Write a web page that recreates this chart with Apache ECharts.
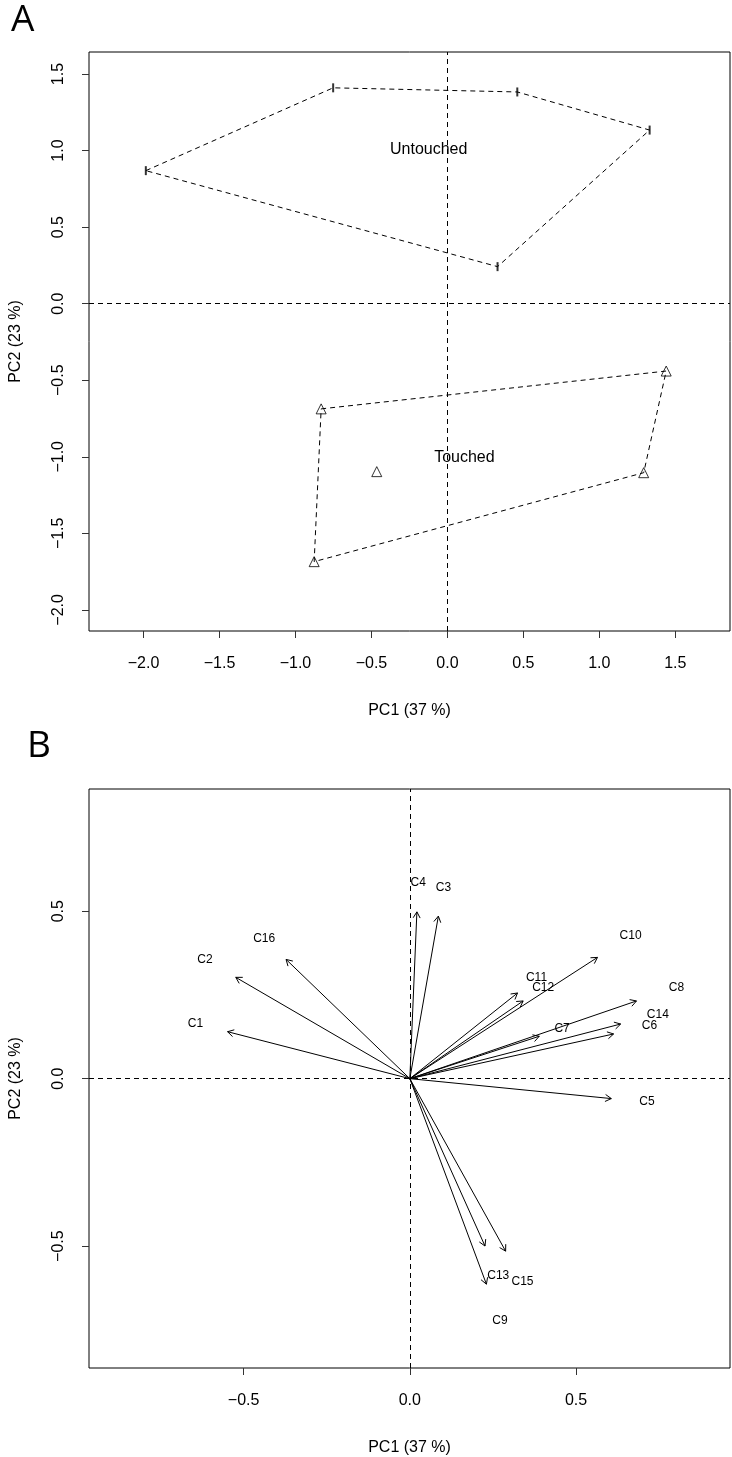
<!DOCTYPE html>
<html><head><meta charset="utf-8">
<script src="https://cdn.jsdelivr.net/npm/echarts@6/dist/echarts.min.js"></script>
<style>html,body{margin:0;padding:0;background:#fff}#c{width:732px;height:1457px}</style>
</head><body><div id="c"></div>
<script>
// ---- Panel A: site scores ----
const untouchedX = [-1.985, -0.752, 0.460, 1.331, 0.330];
const untouchedY = [0.869, 1.410, 1.383, 1.134, 0.242];
const touchedX = [-0.831, 1.440, 1.292, -0.877, -0.465];
const touchedY = [-0.687, -0.440, -1.104, -1.685, -1.097];
const untouchedHull = [0, 1, 2, 3, 4];
const touchedHull = [0, 1, 2, 3];
const groupNames = ['Untouched', 'Touched'];
const ticksAX = [-2.0, -1.5, -1.0, -0.5, 0.0, 0.5, 1.0, 1.5];
const ticksAY = [-2.0, -1.5, -1.0, -0.5, 0.0, 0.5, 1.0, 1.5];
const rangeAX = [-2.359, 1.860];
const rangeAY = [-2.138, 1.644];
// ---- Panel B: variable loadings (label positions) ----
const varNames = ['C1','C2','C3','C4','C5','C6','C7','C8','C9','C10','C11','C12','C13','C14','C15','C16'];
const varX = [-0.645, -0.616, 0.101, 0.025, 0.713, 0.721, 0.458, 0.802, 0.271, 0.664, 0.381, 0.401, 0.266, 0.746, 0.339, -0.438];
const varY = [0.165, 0.356, 0.571, 0.586, -0.070, 0.157, 0.149, 0.273, -0.722, 0.426, 0.301, 0.273, -0.588, 0.192, -0.606, 0.419];
const arrowScale = 0.85;
const ticksBX = [-0.5, 0.0, 0.5];
const ticksBY = [-0.5, 0.0, 0.5];
const rangeBX = [-0.965, 0.963];
const rangeBY = [-0.864, 0.865];
const xTitle = 'PC1 (37 %)';
const yTitle = 'PC2 (23 %)';

const FONT = '"Liberation Sans", Arial, sans-serif';
const fmt = v => (v < 0 ? '\u2212' : '') + Math.abs(v).toFixed(1);
const dash = [5, 4];

function xAx(grid, range, ticks) {
  return {
    type: 'value', gridIndex: grid, min: range[0], max: range[1], position: 'bottom',
    axisLine: { show: false, onZero: false },
    axisTick: { show: true, length: 7, customValues: ticks, lineStyle: { color: '#333', width: 1 } },
    axisLabel: { customValues: ticks, formatter: fmt, fontFamily: FONT, fontSize: 16, color: '#000', margin: 25 },
    splitLine: { show: false },
    name: xTitle, nameLocation: 'middle', nameGap: 72,
    nameTextStyle: { fontFamily: FONT, fontSize: 16, color: '#000' }
  };
}
function yAx(grid, range, ticks) {
  return {
    type: 'value', gridIndex: grid, min: range[0], max: range[1], position: 'left',
    axisLine: { show: false, onZero: false },
    axisTick: { show: true, length: 7, customValues: ticks, lineStyle: { color: '#333', width: 1 } },
    axisLabel: { customValues: ticks, formatter: fmt, fontFamily: FONT, fontSize: 16, color: '#000', margin: 22, rotate: 90 },
    splitLine: { show: false },
    name: yTitle, nameLocation: 'middle', nameGap: 65, nameRotate: 90,
    nameTextStyle: { fontFamily: FONT, fontSize: 16, color: '#000' }
  };
}

const hullData = (xs, ys, order) => order.concat([order[0]]).map(i => [xs[i], ys[i]]);
const centroid = (xs, ys) => [xs.reduce((a, b) => a + b, 0) / xs.length, ys.reduce((a, b) => a + b, 0) / ys.length];

const zeroLines = {
  silent: true, symbol: ['none', 'none'], label: { show: false },
  lineStyle: { type: dash, color: '#000', width: 1 },
  data: [{ yAxis: 0 }, { xAxis: 0 }]
};

const textSeries = (xi, yi, items, size) => ({
  type: 'custom', xAxisIndex: xi, yAxisIndex: yi, silent: true, clip: false,
  data: items.map(it => [it[0], it[1]]),
  renderItem(params, api) {
    const p = api.coord([api.value(0), api.value(1)]);
    return { type: 'text', x: p[0], y: p[1],
      style: { text: items[params.dataIndex][2], fill: '#000', font: size + 'px ' + FONT, align: 'center', verticalAlign: 'middle' } };
  }
});

const cu = centroid(untouchedX, untouchedY);
const ct = centroid(touchedX, touchedY);

const option = {
  animation: false,
  backgroundColor: '#fff',
  grid: [
    { left: 85, top: 52, width: 645, height: 579, show: true, borderColor: '#000', borderWidth: 1, containLabel: false },
    { left: 85, top: 789, width: 645, height: 579, show: true, borderColor: '#000', borderWidth: 1, containLabel: false }
  ],
  xAxis: [xAx(0, rangeAX, ticksAX), xAx(1, rangeBX, ticksBX)],
  yAxis: [yAx(0, rangeAY, ticksAY), yAx(1, rangeBY, ticksBY)],
  graphic: [
    { type: 'text', left: 11, top: 2, style: { text: 'A', font: '37px "Open Sans", sans-serif', fill: '#000' } },
    { type: 'text', left: 27, top: 728, style: { text: 'B', font: '37px "Open Sans", sans-serif', fill: '#000' } }
  ],
  series: [
    { type: 'line', xAxisIndex: 0, yAxisIndex: 0, data: hullData(untouchedX, untouchedY, untouchedHull),
      symbol: 'none', lineStyle: { type: dash, color: '#000', width: 1 }, silent: true, markLine: zeroLines },
    { type: 'line', xAxisIndex: 0, yAxisIndex: 0, data: hullData(touchedX, touchedY, touchedHull),
      symbol: 'none', lineStyle: { type: dash, color: '#000', width: 1 }, silent: true },
    { type: 'scatter', xAxisIndex: 0, yAxisIndex: 0, data: untouchedX.map((x, i) => [x, untouchedY[i]]),
      symbol: 'rect', symbolSize: [2, 9], itemStyle: { color: '#000' }, silent: true },
    { type: 'scatter', xAxisIndex: 0, yAxisIndex: 0, data: touchedX.map((x, i) => [x, touchedY[i]]),
      symbol: 'triangle', symbolSize: 10, itemStyle: { color: 'rgba(0,0,0,0)', borderColor: '#000', borderWidth: 1 }, silent: true },
    textSeries(0, 0, [[cu[0], cu[1], groupNames[0]], [ct[0], ct[1], groupNames[1]]], 16),
    // Panel B
    { type: 'line', xAxisIndex: 1, yAxisIndex: 1, data: [], silent: true, markLine: zeroLines },
    { type: 'custom', xAxisIndex: 1, yAxisIndex: 1, silent: true, clip: false,
      data: varX.map((x, i) => [x * arrowScale, varY[i] * arrowScale]),
      renderItem(params, api) {
        const o = api.coord([0, 0]);
        const t = api.coord([api.value(0), api.value(1)]);
        const ang = Math.atan2(t[1] - o[1], t[0] - o[0]);
        const L = 7, a = Math.PI / 6;
        const p1 = [t[0] - L * Math.cos(ang - a), t[1] - L * Math.sin(ang - a)];
        const p2 = [t[0] - L * Math.cos(ang + a), t[1] - L * Math.sin(ang + a)];
        return { type: 'group', children: [
          { type: 'line', shape: { x1: o[0], y1: o[1], x2: t[0], y2: t[1] }, style: { stroke: '#000', lineWidth: 1 } },
          { type: 'polyline', shape: { points: [p1, t, p2] }, style: { stroke: '#000', fill: null, lineWidth: 1 } }
        ] };
      }
    },
    textSeries(1, 1, varNames.map((n, i) => [varX[i], varY[i], n]), 12)
  ]
};
const chart = echarts.init(document.getElementById('c'), null, { renderer: 'canvas' });
chart.setOption(option);
</script>
</body></html>
